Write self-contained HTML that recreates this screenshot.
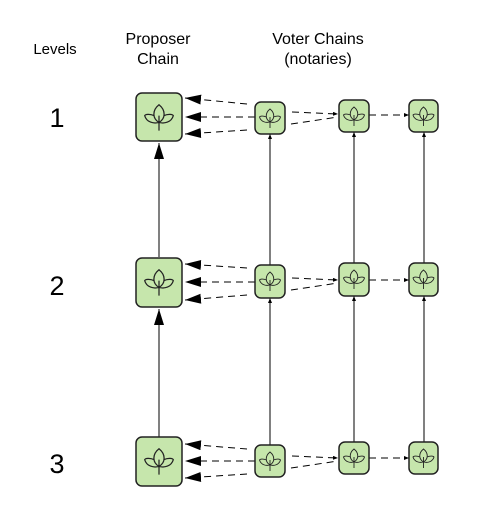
<!DOCTYPE html>
<html><head><style>
html,body{margin:0;padding:0;background:#fff;}
svg{display:block;}
text{font-family:"Liberation Sans",sans-serif;fill:#000;}
</style></head><body>
<svg width="481" height="521" viewBox="0 0 481 521" xmlns="http://www.w3.org/2000/svg">
<defs>
<symbol id="leaf" viewBox="-11 -11 22 22">
<path d="M0,-9 C-5,-5 -5,1 0,4 C5,1 5,-5 0,-9 Z M-3.5,-1 C-7,-2.5 -10,-2 -10.5,-1 C-9,4 -4,5 0,4 C4,5 9,4 10.5,-1 C10,-2 7,-2.5 3.5,-1 M0,-1 L0,10" fill="none" stroke="#222" stroke-width="0.9"/>
</symbol>
<marker id="ah" markerWidth="16" markerHeight="10" refX="16" refY="5" orient="auto" markerUnits="userSpaceOnUse"><path d="M0,0 L16,5 L0,10 Z" fill="#000"/></marker>
<marker id="sm" markerWidth="5" markerHeight="4" refX="5" refY="2" orient="auto" markerUnits="userSpaceOnUse"><path d="M0,0 L5,2 L0,4 Z" fill="#000"/></marker>
</defs>
<text x="55" y="54" font-size="15" text-anchor="middle">Levels</text>
<text x="158" y="44" font-size="16" text-anchor="middle">Proposer</text>
<text x="158" y="64" font-size="16" text-anchor="middle">Chain</text>
<text x="318" y="44" font-size="16" text-anchor="middle">Voter Chains</text>
<text x="318" y="64" font-size="16" text-anchor="middle">(notaries)</text>
<text x="57" y="127" font-size="27" text-anchor="middle">1</text>
<text x="57" y="295" font-size="27" text-anchor="middle">2</text>
<text x="57" y="473" font-size="27" text-anchor="middle">3</text>

<g stroke="#000" stroke-width="1" fill="none">
<line x1="159" y1="257" x2="159" y2="143" marker-end="url(#ah)"/>
<line x1="159" y1="437" x2="159" y2="309" marker-end="url(#ah)"/>
<line x1="270" y1="265" x2="270" y2="134" marker-end="url(#sm)"/>
<line x1="270" y1="445" x2="270" y2="298" marker-end="url(#sm)"/>
<line x1="354" y1="263" x2="354" y2="132" marker-end="url(#sm)"/>
<line x1="354" y1="442" x2="354" y2="296" marker-end="url(#sm)"/>
<line x1="424" y1="263" x2="424" y2="132" marker-end="url(#sm)"/>
<line x1="424" y1="442" x2="424" y2="296" marker-end="url(#sm)"/>
</g>

<g stroke="#000" stroke-width="1" fill="none" stroke-dasharray="7,5">
<line x1="247" y1="104" x2="185" y2="98" marker-end="url(#ah)"/>
<line x1="255" y1="117" x2="185" y2="117" marker-end="url(#ah)"/>
<line x1="247" y1="130" x2="185" y2="134" marker-end="url(#ah)"/>
<line x1="292" y1="112" x2="338" y2="114" marker-end="url(#sm)"/>
<line x1="291" y1="124" x2="338" y2="117" />
<line x1="369" y1="115" x2="409" y2="115" marker-end="url(#sm)"/>
<line x1="247" y1="268" x2="185" y2="264" marker-end="url(#ah)"/>
<line x1="255" y1="282" x2="185" y2="282" marker-end="url(#ah)"/>
<line x1="247" y1="295" x2="185" y2="300" marker-end="url(#ah)"/>
<line x1="292" y1="278" x2="338" y2="280" marker-end="url(#sm)"/>
<line x1="291" y1="290" x2="338" y2="283"/>
<line x1="369" y1="280" x2="409" y2="280" marker-end="url(#sm)"/>
<line x1="247" y1="449" x2="185" y2="444" marker-end="url(#ah)"/>
<line x1="255" y1="461" x2="185" y2="461" marker-end="url(#ah)"/>
<line x1="247" y1="474" x2="185" y2="478" marker-end="url(#ah)"/>
<line x1="292" y1="456" x2="338" y2="458" marker-end="url(#sm)"/>
<line x1="291" y1="468" x2="338" y2="461"/>
<line x1="369" y1="458" x2="409" y2="458" marker-end="url(#sm)"/>
</g>

<g fill="#c6e6ac" stroke="#222" stroke-width="1.5">
<rect x="136" y="93" width="46" height="48" rx="6"/>
<rect x="136" y="258" width="46" height="49" rx="6"/>
<rect x="136" y="437" width="46" height="49" rx="6"/>
<rect x="255" y="102" width="30" height="32" rx="6"/>
<rect x="339" y="100" width="30" height="32" rx="6"/>
<rect x="409" y="100" width="29" height="32" rx="6"/>
<rect x="255" y="265" width="30" height="33" rx="6"/>
<rect x="339" y="263" width="30" height="33" rx="6"/>
<rect x="409" y="263" width="29" height="33" rx="6"/>
<rect x="255" y="445" width="30" height="32" rx="6"/>
<rect x="339" y="442" width="30" height="32" rx="6"/>
<rect x="409" y="442" width="29" height="32" rx="6"/>
</g>
<use href="#leaf" x="144" y="102" width="30" height="30"/>
<use href="#leaf" x="144" y="267" width="30" height="30"/>
<use href="#leaf" x="144" y="446" width="30" height="30"/>
<use href="#leaf" x="259" y="107" width="22" height="22"/>
<use href="#leaf" x="343" y="105" width="22" height="22"/>
<use href="#leaf" x="412.5" y="105" width="22" height="22"/>
<use href="#leaf" x="259" y="270" width="22" height="22"/>
<use href="#leaf" x="343" y="268" width="22" height="22"/>
<use href="#leaf" x="412.5" y="268" width="22" height="22"/>
<use href="#leaf" x="259" y="450" width="22" height="22"/>
<use href="#leaf" x="343" y="447" width="22" height="22"/>
<use href="#leaf" x="412.5" y="447" width="22" height="22"/>
</svg>
</body></html>
